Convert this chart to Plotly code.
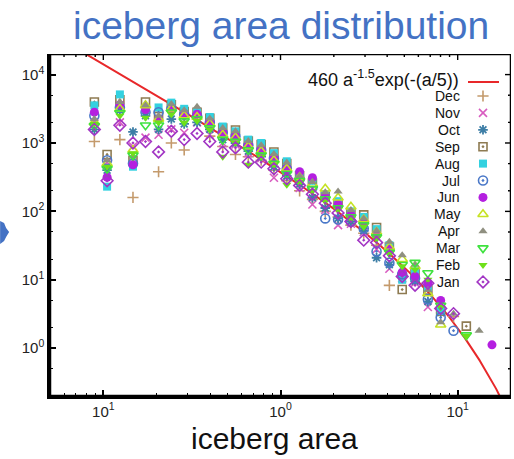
import numpy as np
import plotly.graph_objects as go

# ---------------- data ----------------
area = [0.089, 0.105, 0.124, 0.147, 0.173, 0.205, 0.242, 0.286,
        0.338, 0.399, 0.472, 0.557, 0.658, 0.778, 0.918, 1.085,
        1.282, 1.514, 1.789, 2.113, 2.497, 2.950, 3.485, 4.117,
        4.864, 5.746, 6.789, 8.020, 9.476, 11.19, 13.22, 15.62]

months = ["Dec", "Nov", "Oct", "Sep", "Aug", "Jul",
          "Jun", "May", "Apr", "Mar", "Feb", "Jan"]

N = None
dec = [1050, N, 1120, 160, N, 380, 1000, 790,
       N, 1260, 890, 680, 630, 560, 400, 280,
       200, 150, 100, 83, 63, 48, 32, 8.3,
       N, N, N, N, 2.9, N, N, N]
nov = [2000, 520, 2000, 890, 1200, 1320, 1580, 1410,
       2000, 1320, 1000, 950, 710, 600, 310, 320,
       220, 126, 105, 63, 66, 50, 28, 14.5,
       10.5, 9.1, 4.0, N, N, N, N, N]
oct_ = [1580, 400, 3000, 1450, 2500, 1580, 2240, 1900,
        2000, 1580, 1120, 1000, 760, 630, 450, 330,
        250, 158, 112, 79, 71, 52, 21, 16.6,
        11.2, 9.5, 4.8, 3.3, N, N, N, N]
sep = [3980, 680, 4270, 560, 3980, 2450, 3630, 2880,
       2820, 2290, 1660, 1550, 1070, 950, 740, 500,
       330, 260, 166, 132, 95, 89, 58, 30,
       7.2, 12.6, 7.1, 3.5, N, 2.1, N, N]
aug = [3550, 230, 5130, 450, 3160, 3310, 3890, 3160,
       2820, 2400, 1740, 1480, 1120, 1000, 710, 540,
       355, 280, 178, 141, 100, 83, 55, 32,
       10, 13.2, 7.6, 3.5, N, N, N, N]
jul = [2510, 560, 3310, 500, 2820, 2820, 3160, 2630,
       2510, 2000, 1410, 1260, 930, 790, 600, 420,
       295, 224, 79, 76, 71, 56, 26, 17.8,
       12, 10.5, 5.2, 2.8, 1.8, N, N, N]
jun = [2820, 316, 3630, 480, 3090, 2240, 3020, 2510,
       2630, 2000, 1410, 1260, 930, 790, 600, 420,
       380, 310, 166, 126, 89, 71, 45, 28,
       12.9, 11.2, 8.9, 5.0, N, N, N, 1.12]
may = [2000, 500, 3160, 790, 3550, 2240, 3160, 2510,
       2400, 1910, 1320, 1200, 890, 760, 560, 420,
       316, 250, 214, 158, 117, 76, 50, 30,
       20, 15.8, 6.3, 2.2, N, N, N, N]
apr = [2240, 560, 3980, 630, 3550, 2510, 3720, 3020,
       3390, 2290, 1660, 1480, 1070, 930, 690, 520,
       330, 270, 190, 195, 105, 79, 52, 36,
       22.9, 16.6, 7.1, 2.4, 3.2, N, 1.8, N]
mar = [1780, 420, 2750, 660, 1820, 1820, 2820, 2090,
       2240, 1660, 1120, 1050, 790, 660, 500, 355,
       280, 214, 151, 112, 83, 63, 42, 25,
       16.6, 17.8, 12.6, 4.2, N, 1.55, N, N]
feb = [1910, 450, 2510, 710, 2340, 2000, 2630, 2000,
       2090, 1580, 630, 1000, 480, 630, 480, 245,
       263, 200, 141, 105, 79, 60, 40, 24,
       15.8, 14.1, 10, 4.0, N, 1.51, N, N]
jan = [1580, 280, 1820, 1000, 1050, 740, 1480, 1120,
       1380, 1050, 740, 850, 525, 525, 420, 300,
       240, 178, 132, 95, 71, 38, 35, 22.4,
       11.2, 8.3, 8.9, 3.8, 3.2, N, N, N]

series = [dec, nov, oct_, sep, aug, jul, jun, may, apr, mar, feb, jan]

# fit: 460 a^-1.5 exp(-(a/5))
fit_amp, fit_exp, fit_scale = 460, -1.5, 5

y_tickvals = [1, 10, 100, 1000, 10000]
y_ticktext = ["10<sup>0</sup>", "10<sup>1</sup>", "10<sup>2</sup>",
              "10<sup>3</sup>", "10<sup>4</sup>"]
x_tickvals = [0.1, 1, 10]
x_ticktext = ["10<sup>1</sup>", "10<sup>0</sup>", "10<sup>1</sup>"]

# ---------------- layout geometry ----------------
W, H = 514, 459
ML, MR, MT, MB = 50, 3, 54, 63
XR = [np.log10(0.05), np.log10(20)]
YR = [np.log10(0.2), np.log10(20000)]
PW, PH = W - ML - MR, H - MT - MB
XMIN, XMAX = 10 ** XR[0], 10 ** XR[1]
YMIN, YMAX = 10 ** YR[0], 10 ** YR[1]


def px_x(px):  # pixel column -> data x (log axis)
    return 10 ** (XR[0] + (px - ML) / PW * (XR[1] - XR[0]))


def px_y(py):  # pixel row -> data y (log axis)
    return 10 ** (YR[0] + (H - MB - py) / PH * (YR[1] - YR[0]))


def paper_x(px):
    return (px - ML) / PW


def paper_y(py):
    return (H - MB - py) / PH


# ---------------- styles ----------------
styles = {
    "Dec": dict(symbol="cross-thin-open", color="#c49a6c", lw=1.6, size=8),
    "Nov": dict(symbol="x-thin-open", color="#d85cc0", lw=1.6, size=8),
    "Oct": dict(symbol="asterisk-open", color="#3d7ea6", lw=1.8, size=8),
    "Sep": dict(symbol="square-open-dot", color="#8e7b52", lw=1.6, size=8),
    "Aug": dict(symbol="square", color="#33d1e0", lw=0, size=8),
    "Jul": dict(symbol="circle-open-dot", color="#4a78c8", lw=1.6, size=9),
    "Jun": dict(symbol="circle", color="#b41fe0", lw=0, size=9),
    "May": dict(symbol="triangle-up-open", color="#c6e224", lw=1.6, size=9),
    "Apr": dict(symbol="triangle-up", color="#8f8f80", lw=0, size=8),
    "Mar": dict(symbol="triangle-down-open", color="#3fe23f", lw=1.6, size=9),
    "Feb": dict(symbol="triangle-down", color="#6ee01a", lw=0, size=8),
    "Jan": dict(symbol="diamond-open-dot", color="#a235c4", lw=1.6, size=9),
}

fig = go.Figure()

a = np.logspace(np.log10(0.05), np.log10(25), 500)
fig.add_trace(go.Scatter(
    x=a, y=fit_amp * a ** fit_exp * np.exp(-(a / fit_scale)),
    mode="lines", line=dict(color="#e8282a", width=2),
    showlegend=False, hoverinfo="skip"))

for name, vals in zip(months, series):
    s = styles[name]
    fig.add_trace(go.Scatter(
        x=area, y=vals, mode="markers", name=name, showlegend=False,
        marker=dict(symbol=s["symbol"], size=s["size"], color=s["color"],
                    line=dict(color=s["color"], width=s["lw"]))))

# ---------------- custom legend (text left of symbol, right aligned) ----------------
leg_y0, leg_dy = 96, 16.9
leg_mx, leg_tx = 483, 462
fig.add_trace(go.Scatter(x=[px_x(468), px_x(499)], y=[px_y(82), px_y(82)],
                         mode="lines", line=dict(color="#e8282a", width=2),
                         showlegend=False, hoverinfo="skip"))
for i, name in enumerate(months):
    s = styles[name]
    yy = leg_y0 + i * leg_dy
    fig.add_trace(go.Scatter(
        x=[px_x(leg_mx)], y=[px_y(yy)], mode="markers",
        showlegend=False, hoverinfo="skip",
        marker=dict(symbol=s["symbol"], size=s["size"], color=s["color"],
                    line=dict(color=s["color"], width=s["lw"]))))

# ---------------- frame box and mirrored (top / right) inside ticks ----------------
x_minor = [v * m for v in (0.01, 0.1, 1, 10) for m in range(2, 10)]
y_minor = [v * m for v in (0.1, 1, 10, 100, 1000, 10000) for m in (2, 5)]

fig.add_trace(go.Scatter(
    x=[XMIN, XMAX, XMAX, XMIN, XMIN], y=[YMIN, YMIN, YMAX, YMAX, YMIN],
    mode="lines", line=dict(color="black", width=2.5),
    cliponaxis=False, showlegend=False, hoverinfo="skip"))

tx, ty = [], []
for v, ln in [(v, 6) for v in x_tickvals] + [(v, 3) for v in x_minor]:
    if XMIN < v < XMAX:
        tx += [v, v, None]
        ty += [YMAX, px_y(MT + ln), None]
for v, ln in [(v, 6) for v in y_tickvals] + [(v, 3) for v in y_minor]:
    if YMIN < v < YMAX:
        tx += [XMAX, px_x(W - MR - ln), None]
        ty += [v, v, None]
fig.add_trace(go.Scatter(x=tx, y=ty, mode="lines",
                         line=dict(color="black", width=1.4),
                         cliponaxis=False, showlegend=False, hoverinfo="skip"))

font_fam = "Liberation Sans, Arial"
annotations = [
    dict(x=paper_x(461), y=paper_y(79), xref="paper", yref="paper",
         xanchor="right", yanchor="middle",
         text="460 a<sup>-1.5</sup>exp(-(a/5))", showarrow=False,
         font=dict(size=18, color="#111", family=font_fam)),
]
for i, name in enumerate(months):
    annotations.append(dict(
        x=paper_x(leg_tx), y=paper_y(leg_y0 + i * leg_dy),
        xref="paper", yref="paper",
        xanchor="right", yanchor="middle", text=name, showarrow=False,
        font=dict(size=14, color="#111", family=font_fam)))

annotations.append(dict(x=paper_x(281), y=paper_y(25.5), xref="paper", yref="paper",
                        xanchor="center", yanchor="middle",
                        text="iceberg area distribution", showarrow=False,
                        font=dict(size=39, color="#4472c4", family=font_fam)))
annotations.append(dict(x=paper_x(274), y=paper_y(438), xref="paper", yref="paper",
                        xanchor="center", yanchor="middle",
                        text="iceberg area", showarrow=False,
                        font=dict(size=30, color="#111", family=font_fam)))

axis_common = dict(type="log", showgrid=False, zeroline=False,
                   showline=True, linecolor="black", linewidth=2.5,
                   ticks="inside", ticklen=6, tickwidth=1.5,
                   tickcolor="black",
                   tickfont=dict(size=15, color="#222", family=font_fam))

fig.update_layout(
    width=W, height=H,
    margin=dict(l=ML, r=MR, t=MT, b=MB),
    paper_bgcolor="white", plot_bgcolor="white",
    showlegend=False,
    xaxis=dict(**axis_common, range=XR,
               tickvals=x_tickvals, ticktext=x_ticktext,
               minor=dict(tickvals=x_minor, ticks="inside", ticklen=3,
                          tickwidth=1.2, tickcolor="black")),
    yaxis=dict(**axis_common, range=YR,
               tickvals=y_tickvals, ticktext=y_ticktext,
               minor=dict(tickvals=y_minor, ticks="inside", ticklen=3,
                          tickwidth=1.2, tickcolor="black")),
    annotations=annotations,
    shapes=[dict(type="path", xref="paper", yref="paper",
                 path="M -0.1082 0.5117 L -0.0996 0.5058 L -0.0952 0.4912 "
                      "L -0.0887 0.4795 L -0.0952 0.4649 L -0.0996 0.4532 "
                      "L -0.1082 0.4444 Z",
                 fillcolor="#4472c4", line=dict(width=0))],
)

fig.write_html("out.html")
